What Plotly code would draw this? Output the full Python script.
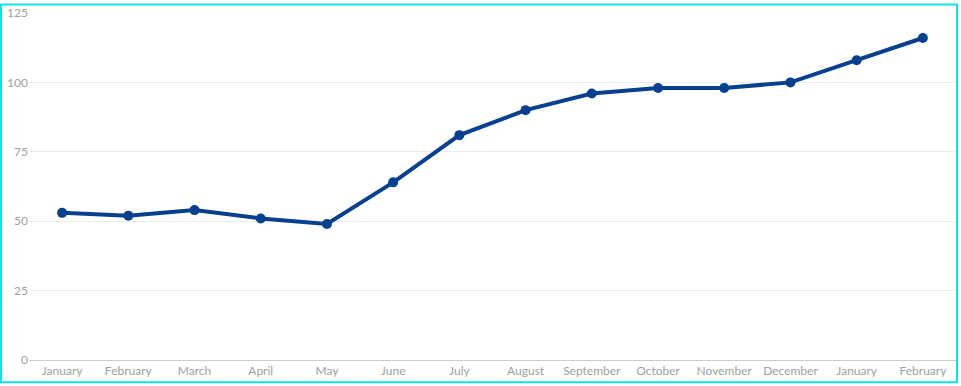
import plotly.graph_objects as go

months = ["January", "February", "March", "April", "May", "June", "July", "August",
          "September", "October", "November", "December", "January", "February"]
values = [53, 52, 54, 51, 49, 64, 81, 90, 96, 98, 98, 100, 108, 116]
y_ticks = [0, 25, 50, 75, 100, 125]

x = list(range(len(months)))

fig = go.Figure(go.Scatter(
    x=x, y=values, mode="lines+markers",
    line=dict(color="#07408f", width=4),
    marker=dict(color="#07408f", size=10),
    hoverinfo="y",
))

W, H = 961, 386
ml, mr, mt, mb = 29, 5, 11, 26
pw, ph = W - ml - mr, H - mt - mb

def px(v):
    return (v - ml) / pw

def py(v):
    return (H - mb - v) / ph

fig.update_layout(
    width=W, height=H,
    margin=dict(l=ml, r=mr, t=mt, b=mb),
    paper_bgcolor="white", plot_bgcolor="white",
    showlegend=False,
    font=dict(family="Lato, sans-serif", size=12, color="#a0a0a0"),
    xaxis=dict(
        tickmode="array", tickvals=x, ticktext=months,
        range=[-0.5, len(months) - 0.5],
        showgrid=False, zeroline=False,
        showline=True, linecolor="#cccccc", linewidth=1,
        ticks="", tickfont=dict(size=12, color="#a0a0a0"),
    ),
    yaxis=dict(
        tickmode="array", tickvals=y_ticks,
        range=[0, 125],
        showgrid=True, gridcolor="#ebebeb", gridwidth=1,
        zeroline=False, showline=False, ticks="",
        tickfont=dict(size=12, color="#a0a0a0"),
    ),
    shapes=[dict(
        type="rect", xref="paper", yref="paper",
        x0=px(1), x1=px(957), y0=py(382.5), y1=py(2.5),
        line=dict(color="#12dfea", width=2), fillcolor="rgba(0,0,0,0)",
        layer="above",
    )],
)

fig.write_html("out.html", config={"displayModeBar": False},
               post_script="document.body.style.margin='0';document.body.style.overflow='hidden';")
